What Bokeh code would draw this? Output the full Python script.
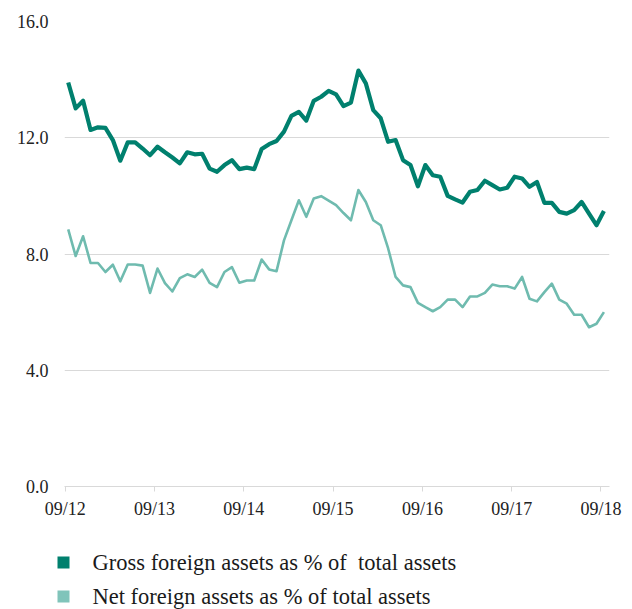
from bokeh.plotting import figure
from bokeh.models import Range1d, FixedTicker
from bokeh.layouts import column, row
from bokeh.core.properties import value
from bokeh.embed import file_html
from bokeh.resources import INLINE

# Monthly data, 09/2012 .. 09/2018
gross = [13.90, 13.01, 13.27, 12.27, 12.36, 12.34, 11.92, 11.21, 11.84, 11.84,
         11.63, 11.40, 11.69, 11.50, 11.32, 11.12, 11.50, 11.43, 11.45, 10.94,
         10.83, 11.06, 11.23, 10.92, 10.97, 10.92, 11.61, 11.78, 11.89, 12.21,
         12.75, 12.89, 12.59, 13.27, 13.41, 13.61, 13.49, 13.09, 13.21, 14.31,
         13.87, 12.95, 12.67, 11.86, 11.92, 11.23, 11.06, 10.33, 11.06, 10.71,
         10.66, 10.00, 9.88, 9.77, 10.14, 10.20, 10.52, 10.37, 10.22, 10.28,
         10.66, 10.60, 10.31, 10.48, 9.76, 9.76, 9.45, 9.39, 9.51, 9.79,
         9.39, 8.99, 9.48]
net = [8.85, 7.93, 8.61, 7.69, 7.69, 7.38, 7.63, 7.06, 7.64, 7.64,
       7.60, 6.66, 7.50, 7.00, 6.71, 7.17, 7.30, 7.21, 7.46, 7.01,
       6.86, 7.38, 7.55, 7.01, 7.09, 7.09, 7.81, 7.47, 7.41, 8.47,
       9.16, 9.85, 9.28, 9.91, 9.99, 9.84, 9.68, 9.41, 9.16, 10.20,
       9.79, 9.16, 8.99, 8.19, 7.21, 6.92, 6.86, 6.32, 6.17, 6.03,
       6.17, 6.43, 6.43, 6.17, 6.54, 6.54, 6.66, 6.95, 6.89, 6.89,
       6.81, 7.21, 6.46, 6.37, 6.69, 6.98, 6.43, 6.29, 5.91, 5.91,
       5.48, 5.60, 6.00]
tick_labels = ["09/12", "09/13", "09/14", "09/15", "09/16", "09/17", "09/18"]
y_ticks = [0, 4, 8, 12, 16]
labels = ["Gross foreign assets as % of \u00a0total assets",
          "Net foreign assets as % of total assets"]

GROSS_C = "#00806E"
NET_C = "#6FBBAF"
NET_SWATCH = "#80C4BA"
GRID_C = "#d9d9d9"
FONT = "Liberation Serif"

months = [i + 0.4 for i in range(len(gross))]

p = figure(width=632, height=535, output_backend="svg", toolbar_location=None,
           x_range=Range1d(-0.1, 73.15), y_range=Range1d(0, 16),
           min_border_left=64, min_border_right=23, min_border_top=21,
           min_border_bottom=49)
p.outline_line_color = None
p.background_fill_color = "white"
p.border_fill_color = "white"

p.line(months, gross, line_color=GROSS_C, line_width=4.2, line_join="round")
p.line(months, net, line_color=NET_C, line_width=2.6, line_join="round")

xa = p.xaxis[0]
xa.ticker = FixedTicker(ticks=[12 * k for k in range(len(tick_labels))])
xa.major_label_overrides = {12 * k: t for k, t in enumerate(tick_labels)}
xa.axis_line_color = GRID_C
xa.major_tick_line_color = GRID_C
xa.major_tick_out = 5
xa.major_tick_in = 0
xa.minor_tick_line_color = None
xa.major_label_text_font = FONT
xa.major_label_text_font_size = "18px"
xa.major_label_text_color = "#222222"
xa.major_label_standoff = 7

ya = p.yaxis[0]
ya.ticker = FixedTicker(ticks=y_ticks)
ya.major_label_overrides = {v: f"{v:.1f}" for v in y_ticks}
ya.axis_line_color = None
ya.major_tick_line_color = None
ya.minor_tick_line_color = None
ya.major_tick_out = 0
ya.major_tick_in = 0
ya.major_label_standoff = 16
ya.major_label_text_font = FONT
ya.major_label_text_font_size = "18px"
ya.major_label_text_color = "#222222"

p.xgrid.grid_line_color = None
p.ygrid.grid_line_color = GRID_C
p.ygrid.grid_line_width = 1

# Legend panel in page pixels (y measured from the panel top)
lg = figure(width=632, height=74, output_backend="svg", toolbar_location=None,
            x_range=Range1d(0, 632), y_range=Range1d(74, 0),
            x_axis_location=None, y_axis_location=None,
            min_border_left=0, min_border_right=0,
            min_border_top=0, min_border_bottom=0)
lg.grid.visible = False
lg.outline_line_color = None
lg.background_fill_color = "white"
lg.border_fill_color = "white"

sw_x = [63, 63]
sw_y = [27, 61]
lg.scatter(sw_x, sw_y, marker="square", size=12,
           fill_color=[GROSS_C, NET_SWATCH], line_color=None)
lg.text([92, 92], sw_y, text=labels, text_font=value(FONT),
        text_font_size="22.5px", text_color="#1a1a1a",
        text_baseline="middle", text_align="left")

layout = column(p, row(lg, spacing=0), spacing=0)
open("out.html", "w").write(file_html(layout, INLINE))
